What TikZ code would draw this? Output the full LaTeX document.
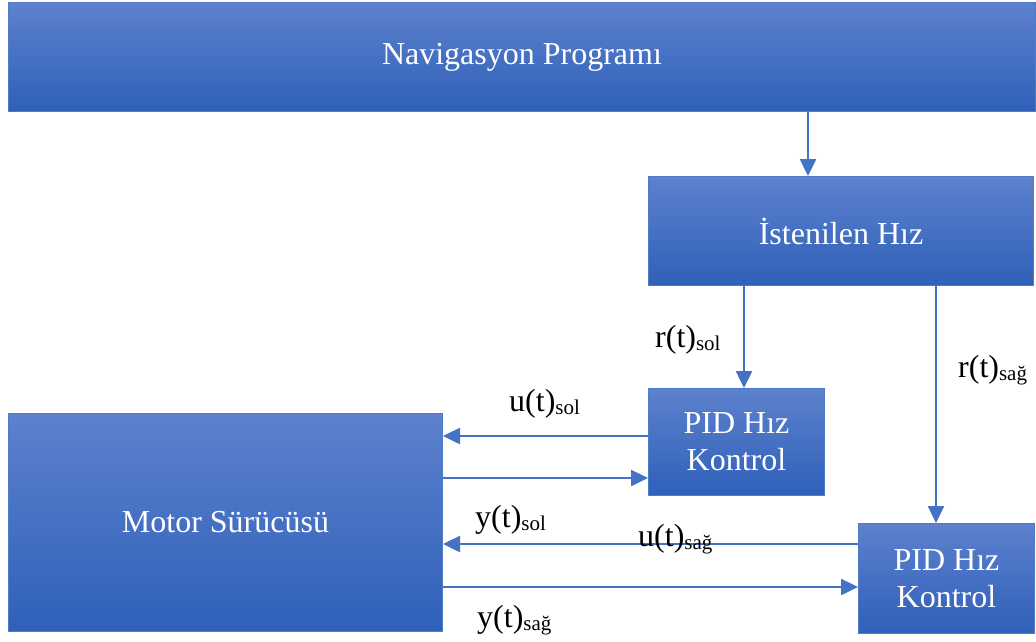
\documentclass[tikz,border=0pt]{standalone}
\usepackage{fontspec}
\setmainfont{Liberation Serif}
\usetikzlibrary{arrows.meta}
\definecolor{boxtop}{RGB}{93,129,205}
\definecolor{boxbot}{RGB}{47,96,185}
\definecolor{boxline}{RGB}{79,123,203}
\definecolor{wire}{RGB}{68,114,196}
\newcommand{\sig}[2]{#1(t)\raisebox{-0.12em}{\fontsize{21}{21}\selectfont #2}}
\tikzset{
  block/.style={rectangle, anchor=north west, inner sep=0pt,
    top color=boxtop, bottom color=boxbot, draw=boxline, line width=1pt,
    text=white, align=center, font=\fontsize{32}{37}\selectfont},
  arr/.style={draw=wire, line width=2.5pt,
    -{Triangle[length=17pt,width=16pt]}},
  lbl/.style={anchor=base west, inner sep=0pt, font=\fontsize{32}{37}\selectfont}
}
\begin{document}
\begin{tikzpicture}[x=1pt,y=-1pt]
\useasboundingbox (0,0) rectangle (1036,641);
% blocks
\node[block, minimum width=1027pt, minimum height=109pt] (nav) at (8,2) {Navigasyon Programı};
\node[block, minimum width=385pt, minimum height=109pt] (ist) at (648,176) {İstenilen Hız};
\node[block, minimum width=176pt, minimum height=107pt] (pid1) at (648,388) {PID Hız\\Kontrol};
\node[block, minimum width=434pt, minimum height=218pt] (motor) at (8,413) {Motor Sürücüsü};
\node[block, minimum width=176pt, minimum height=110pt] (pid2) at (858,523) {PID Hız\\Kontrol};
% wire positions
\coordinate (xa) at (808,0);
\coordinate (xsol) at (744,0);
\coordinate (xsag) at (936,0);
\coordinate (ya) at (0,436);
\coordinate (yb) at (0,478);
\coordinate (yc) at (0,544);
\coordinate (yd) at (0,587);
% connectors
\draw[arr] (nav.south -| xa) -- (ist.north -| xa);
\draw[arr] (ist.south -| xsol) -- (pid1.north -| xsol);
\draw[arr] (ist.south -| xsag) -- (pid2.north -| xsag);
\draw[arr] (pid1.west |- ya) -- (motor.east |- ya);
\draw[arr] (motor.east |- yb) -- (pid1.west |- yb);
\draw[arr] (pid2.west |- yc) -- (motor.east |- yc);
\draw[arr] (motor.east |- yd) -- (pid2.west |- yd);
% signal labels
\node[lbl] (rsol) at (655,347) {\sig{r}{sol}};
\node[lbl] (rsag) at (958,377) {\sig{r}{sağ}};
\node[lbl] (usol) at (509,411) {\sig{u}{sol}};
\node[lbl] (ysol) at (475,527) {\sig{y}{sol}};
\node[lbl] (usag) at (638,546) {\sig{u}{sağ}};
\node[lbl] (ysag) at (477,627) {\sig{y}{sağ}};
\end{tikzpicture}
\end{document}
